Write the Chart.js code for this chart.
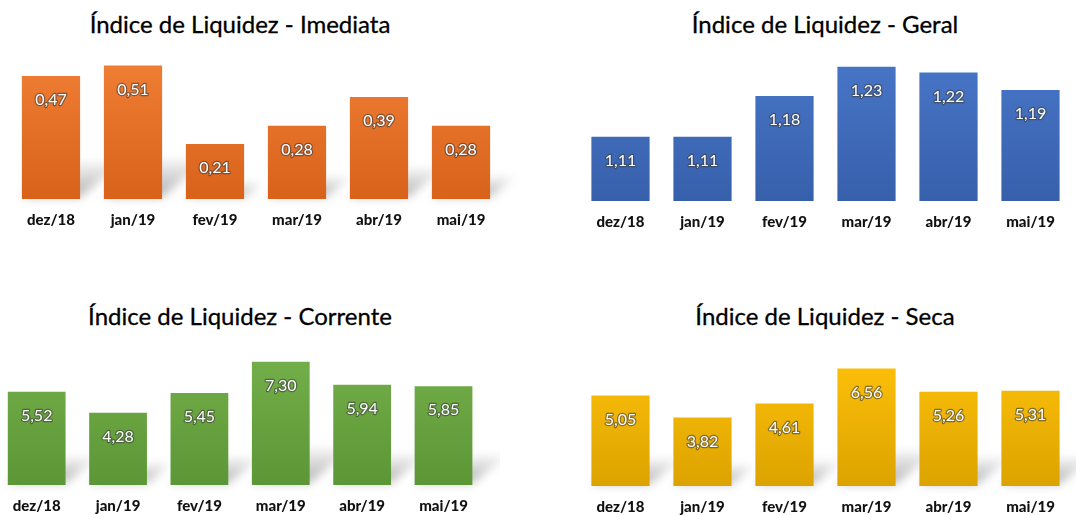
<!DOCTYPE html>
<html>
<head>
<meta charset="utf-8">
<script src="https://cdn.jsdelivr.net/npm/chart.js@4.4.1/dist/chart.umd.min.js"></script>
<style>
    body { margin: 0; width: 1076px; height: 515px; background: #fff; overflow: hidden; position: relative; font-family: Lato, sans-serif; }
    canvas { position: absolute; }
    .title { position: absolute; width: 500px; text-align: center; font-size: 24px; line-height: 1; color: #000; white-space: nowrap; -webkit-text-stroke: 0.3px #000; }
</style>
</head>
<body>
<div class="title" style="left:-10px; top:12px">Índice de Liquidez - Imediata</div>
<div class="title" style="left:575px; top:12px">Índice de Liquidez - Geral</div>
<div class="title" style="left:-10px; top:304px">Índice de Liquidez - Corrente</div>
<div class="title" style="left:575px; top:304px">Índice de Liquidez - Seca</div>

<canvas id="c1" width="520" height="252" style="left:0px; top:0px"></canvas>
<canvas id="c2" width="516" height="252" style="left:560px; top:0px"></canvas>
<canvas id="c3" width="510" height="242" style="left:-10px; top:290px"></canvas>
<canvas id="c4" width="516" height="242" style="left:560px; top:290px"></canvas>

<script>
var months = ['dez/18', 'jan/19', 'fev/19', 'mar/19', 'abr/19', 'mai/19'];
var imediata = [0.47, 0.51, 0.21, 0.28, 0.39, 0.28];
var geral = [1.11, 1.11, 1.18, 1.23, 1.22, 1.19];
var corrente = [5.52, 4.28, 5.45, 7.30, 5.94, 5.85];
var seca = [5.05, 3.82, 4.61, 6.56, 5.26, 5.31];

function fmt(v) {
    return v.toFixed(2).replace('.', ',');
}

// soft grey shadow cast back and to the right of each bar
var barShadow = {
    id: 'barShadow',
    beforeDatasetsDraw: function(chart) {
        var ctx = chart.ctx;
        var meta = chart.getDatasetMeta(0);
        ctx.save();
        ctx.filter = 'blur(5px)';
        meta.data.forEach(function(bar) {
            var left = bar.x - bar.width / 2;
            var right = bar.x + bar.width / 2;
            var bottom = bar.base;
            var h = bottom - bar.y;
            var dx = Math.min(0.35 * h, 45);
            var dy = Math.min(0.3 * h, 40);
            var g = ctx.createLinearGradient(0, bottom, 0, bottom - dy);
            g.addColorStop(0, 'rgba(0,0,0,0.32)');
            g.addColorStop(1, 'rgba(0,0,0,0.04)');
            ctx.fillStyle = g;
            ctx.beginPath();
            ctx.moveTo(left, bottom - 2);
            ctx.lineTo(right, bottom - 2);
            ctx.lineTo(right + dx, bottom - dy);
            ctx.lineTo(left + dx, bottom - dy);
            ctx.closePath();
            ctx.fill();
        });
        ctx.restore();
    }
};

// value labels inside the top of each bar
var valueLabels = {
    id: 'valueLabels',
    afterDatasetsDraw: function(chart) {
        var ctx = chart.ctx;
        var meta = chart.getDatasetMeta(0);
        var values = chart.data.datasets[0].data;
        ctx.save();
        ctx.font = '16px Lato';
        ctx.textAlign = 'center';
        ctx.textBaseline = 'middle';
        ctx.lineJoin = 'round';
        meta.data.forEach(function(bar, i) {
            var txt = fmt(values[i]);
            ctx.lineWidth = 2.4;
            ctx.strokeStyle = 'rgba(60,60,60,0.6)';
            ctx.strokeText(txt, bar.x, bar.y + 24);
            ctx.fillStyle = '#ffffff';
            ctx.fillText(txt, bar.x, bar.y + 24);
        });
        ctx.restore();
    }
};

function makeChart(id, values, topColor, bottomColor, yMin, yMax, pad) {
    var ctx = document.getElementById(id).getContext('2d');
    return new Chart(ctx, {
        type: 'bar',
        data: {
            labels: months,
            datasets: [{
                data: values,
                backgroundColor: function(context) {
                    var chart = context.chart;
                    if (!chart.chartArea) return topColor;
                    var g = chart.ctx.createLinearGradient(0, chart.chartArea.top, 0, chart.chartArea.bottom);
                    g.addColorStop(0, topColor);
                    g.addColorStop(1, bottomColor);
                    return g;
                },
                borderWidth: 0,
                categoryPercentage: 1,
                barPercentage: 0.71
            }]
        },
        options: {
            responsive: false,
            animation: false,
            layout: { padding: pad },
            plugins: {
                legend: { display: false },
                title: { display: false },
                tooltip: { enabled: false }
            },
            scales: {
                x: {
                    grid: { display: false, drawTicks: false },
                    border: { display: false },
                    ticks: {
                        padding: 12,
                        color: '#111111',
                        font: { family: 'Lato', size: 15, weight: 900 }
                    }
                },
                y: {
                    display: false,
                    min: yMin,
                    max: yMax
                }
            }
        },
        plugins: [barShadow, valueLabels]
    });
}

makeChart('c1', imediata, '#f07f34', '#d9621b', 0, 0.55, { left: 10, right: 18, top: 55, bottom: 11 });
makeChart('c2', geral, '#4876c8', '#3760ab', 1.0, 1.25, { left: 19.5, right: 4.5, top: 55, bottom: 9 });
makeChart('c3', corrente, '#74b04a', '#5c9636', 0, 8, { left: 6, right: 15.8, top: 60, bottom: 5 });
makeChart('c4', seca, '#ffc20a', '#dca300', 0, 7.5, { left: 19.5, right: 4.5, top: 61.6, bottom: 4 });
</script>
</body>
</html>
